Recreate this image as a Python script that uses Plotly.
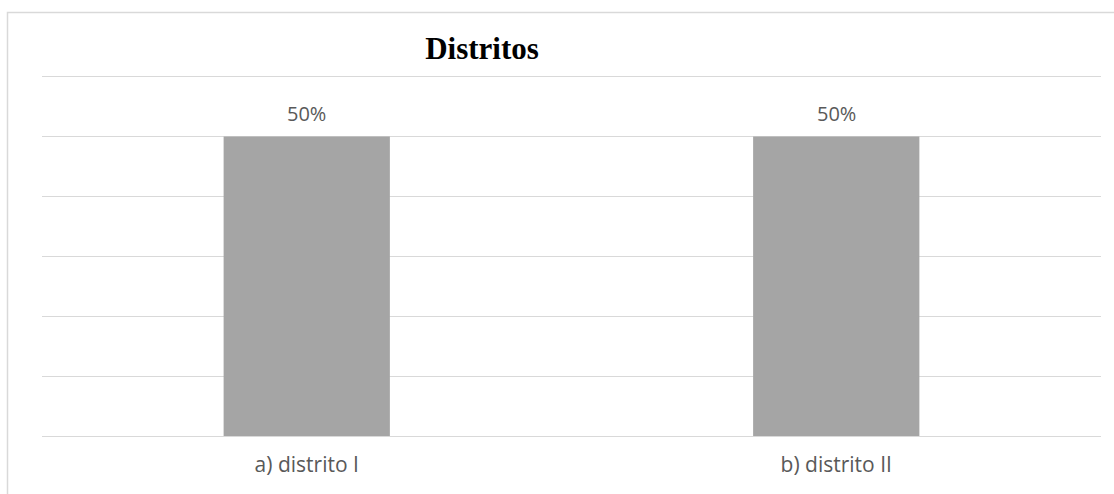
import plotly.graph_objects as go

categories = ["a) distrito I", "b) distrito II"]
values = [0.50, 0.50]
y_ticks = [0, 0.1, 0.2, 0.3, 0.4, 0.5, 0.6]
title_text = "Distritos"

W, H = 1114, 494
L, R, B = 42, 13, 58
y_top = 0.606
plot_h = (H - B - 76.5) * y_top / 0.6
T = H - B - plot_h

fig = go.Figure()
fig.add_trace(go.Bar(
    x=categories, y=values,
    marker=dict(color="#A5A5A5", line=dict(width=0)),
    hoverinfo="skip",
))

for c, v in zip(categories, values):
    fig.add_annotation(
        x=c, y=v, xref="x", yref="y",
        text=f"{v:.0%}", showarrow=False,
        yanchor="bottom", yshift=8,
        font=dict(family="Open Sans", size=20, color="#595959"),
    )

fig.update_layout(
    width=W, height=H,
    margin=dict(l=L, r=R, t=T, b=B, pad=0),
    paper_bgcolor="white", plot_bgcolor="white",
    bargap=0.686,
    showlegend=False,
    title=dict(
        text=f"<b>{title_text}</b>",
        font=dict(family="Liberation Serif", size=31, color="#000000"),
        xref="paper", x=(482 - L) / (W - L - R), xanchor="center",
        yref="container", y=1 - 48 / H, yanchor="middle",
    ),
    xaxis=dict(
        showgrid=False, showline=False, zeroline=False, ticks="",
        tickfont=dict(family="Open Sans", size=21, color="#595959"),
        ticklabelstandoff=14,
    ),
    yaxis=dict(
        range=[0, y_top], tickvals=y_ticks, showticklabels=False,
        showgrid=True, gridcolor="#D9D9D9", gridwidth=1.3,
        zeroline=True, zerolinecolor="#D9D9D9", zerolinewidth=1.3,
        showline=False, ticks="",
    ),
    shapes=[dict(
        type="rect", xref="paper", yref="paper",
        x0=(7.5 - L) / (W - L - R), x1=1.2,
        y0=-0.5, y1=(H - B - 12.5) / plot_h,
        line=dict(color="#D9D9D9", width=1.5), fillcolor="rgba(0,0,0,0)",
        layer="below",
    )],
)

fig.write_html("out.html")
